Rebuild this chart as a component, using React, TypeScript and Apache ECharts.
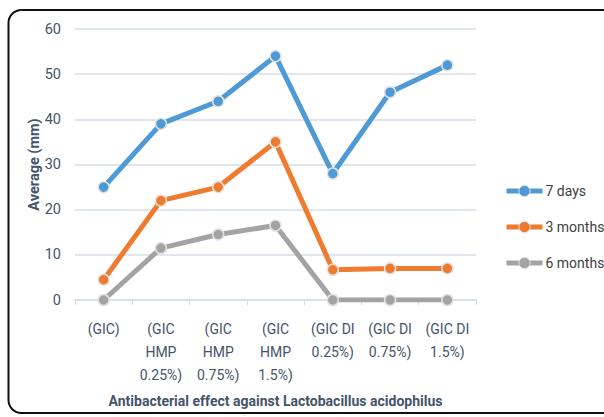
import React, { useEffect, useRef } from "react";
import * as echarts from "echarts";

const categories = [
  "(GIC)",
  "(GIC\nHMP\n0.25%)",
  "(GIC\nHMP\n0.75%)",
  "(GIC\nHMP\n1.5%)",
  "(GIC DI\n0.25%)",
  "(GIC DI\n0.75%)",
  "(GIC DI\n1.5%)",
];
const days7 = [25, 39, 44, 54, 28, 46, 52];
const months3 = [4.5, 22, 25, 35, 6.7, 7, 7];
const months6 = [0, 11.5, 14.5, 16.5, 0, 0, 0];
const seriesNames = ["7 days", "3 months", "6 months"];
const colors = ["#4E9AD6", "#EF7B2F", "#A3A3A3"];

const FONT = "Roboto, 'Open Sans', sans-serif";
const TXT = "#44546A";

export default function App() {
  const ref = useRef<HTMLDivElement>(null);
  useEffect(() => {
    if (!ref.current) return;
    const chart = echarts.init(ref.current, undefined, { renderer: "svg" });
    const mk = (name: string, data: number[], color: string) => ({
      name,
      type: "line",
      data,
      color,
      symbol: "circle",
      symbolSize: 11,
      lineStyle: { width: 5, color },
      itemStyle: { color, borderColor: "#E2E2E2", borderWidth: 1.5 },
    });
    chart.setOption({
      animation: false,
      textStyle: { fontFamily: FONT },
      graphic: [
        {
          type: "rect",
          shape: { x: 8.5, y: 10, width: 640, height: 403, r: 13 },
          style: { fill: "none", stroke: "#111", lineWidth: 2 },
          z: 100,
        },
      ],
      grid: { left: 75, right: 128, top: 29, bottom: 117 },
      legend: {
        orient: "vertical",
        left: 499,
        top: 179,
        itemWidth: 36,
        itemHeight: 14,
        itemGap: 22,
        itemStyle: { borderColor: "#E2E2E2", borderWidth: 1 },
        lineStyle: { width: 5 },
        textStyle: { color: "#404040", fontSize: 14, fontFamily: FONT, padding: [0, 0, 0, -2] },
        data: seriesNames,
      },
      xAxis: {
        type: "category",
        data: categories,
        boundaryGap: true,
        name: "Antibacterial effect against Lactobacillus acidophilus",
        nameLocation: "middle",
        nameGap: 93,
        nameMoveOverlap: false,
        nameTextStyle: { color: TXT, fontSize: 14, fontWeight: "bold", fontFamily: FONT, lineHeight: 16 },
        axisLine: { lineStyle: { color: "#D5DEE8", width: 1.5 } },
        axisTick: { show: true, length: 5, lineStyle: { color: "#D5DEE8" }, alignWithLabel: false },
        axisLabel: { color: TXT, fontSize: 14, lineHeight: 23, margin: 17, interval: 0, fontFamily: FONT },
      },
      yAxis: {
        type: "value",
        min: 0,
        max: 60,
        interval: 10,
        name: "Average (mm)",
        nameLocation: "middle",
        nameGap: 33,
        nameMoveOverlap: false,
        nameTextStyle: { color: TXT, fontSize: 14.5, fontWeight: "bold", fontFamily: FONT },
        axisLine: { show: false },
        axisTick: { show: false },
        axisLabel: { color: TXT, fontSize: 14.5, margin: 14, fontFamily: FONT },
        splitLine: { lineStyle: { color: "#D5DEE8", width: 1.5 } },
      },
      series: [
        mk(seriesNames[0], days7, colors[0]),
        mk(seriesNames[1], months3, colors[1]),
        mk(seriesNames[2], months6, colors[2]),
      ],
    });
    return () => chart.dispose();
  }, []);
  return (
    <div
      ref={ref}
      style={{ position: "absolute", left: 0, top: 0, width: 604, height: 417, background: "#fff" }}
    />
  );
}
